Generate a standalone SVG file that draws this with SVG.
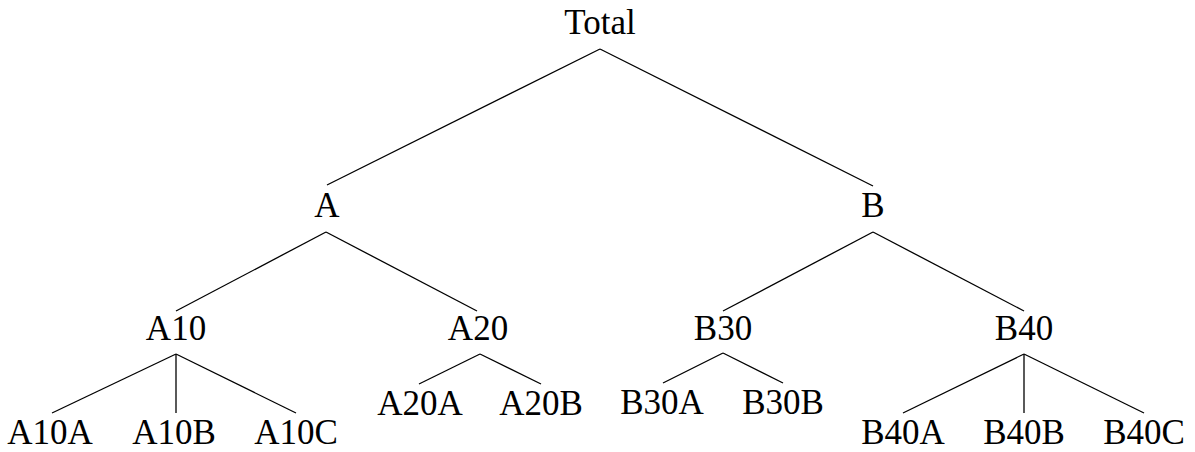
<svg xmlns="http://www.w3.org/2000/svg" width="1195" height="452" viewBox="0 0 1195 452">
  <style>
    .lbl { font-family: "Liberation Serif", "DejaVu Serif", serif; font-size: 35px; fill: #000; text-anchor: middle; }
    .edge { stroke: #000; stroke-width: 1.3; fill: none; stroke-linecap: butt; }
  </style>
  <rect width="1195" height="452" fill="#fff"/>

  <!-- tree edges: parent bottom to child top -->
  <g id="edges" class="edge">
    <line x1="600" y1="49" x2="327" y2="185"/>
    <line x1="600" y1="49" x2="873" y2="186"/>
    <line x1="326" y1="232" x2="176" y2="311"/>
    <line x1="326" y1="232" x2="477" y2="311"/>
    <line x1="873" y1="232" x2="723" y2="311"/>
    <line x1="873" y1="232" x2="1024" y2="311"/>
    <line x1="176" y1="354" x2="52" y2="413"/>
    <line x1="176" y1="354" x2="176" y2="413"/>
    <line x1="176" y1="354" x2="296" y2="413"/>
    <line x1="480" y1="354" x2="419" y2="384"/>
    <line x1="480" y1="354" x2="541" y2="384"/>
    <line x1="723" y1="353" x2="663" y2="383"/>
    <line x1="723" y1="353" x2="783" y2="383"/>
    <line x1="1024" y1="354" x2="903" y2="413"/>
    <line x1="1024" y1="354" x2="1024" y2="413"/>
    <line x1="1024" y1="354" x2="1144" y2="413"/>
  </g>

  <g id="n-total"><text class="lbl" x="600" y="34">Total</text></g>
  <g id="n-a"><text class="lbl" x="327" y="217">A</text></g>
  <g id="n-b"><text class="lbl" x="873" y="217">B</text></g>
  <g id="n-a10"><text class="lbl" x="176" y="340">A10</text></g>
  <g id="n-a20"><text class="lbl" x="478" y="340">A20</text></g>
  <g id="n-b30"><text class="lbl" x="723" y="340">B30</text></g>
  <g id="n-b40"><text class="lbl" x="1024" y="340">B40</text></g>
  <g id="n-a10a"><text class="lbl" x="50" y="444">A10A</text></g>
  <g id="n-a10b"><text class="lbl" x="174" y="444">A10B</text></g>
  <g id="n-a10c"><text class="lbl" x="296" y="444">A10C</text></g>
  <g id="n-a20a"><text class="lbl" x="420" y="415">A20A</text></g>
  <g id="n-a20b"><text class="lbl" x="541" y="415">A20B</text></g>
  <g id="n-b30a"><text class="lbl" x="662" y="414">B30A</text></g>
  <g id="n-b30b"><text class="lbl" x="783" y="414">B30B</text></g>
  <g id="n-b40a"><text class="lbl" x="903" y="444">B40A</text></g>
  <g id="n-b40b"><text class="lbl" x="1024" y="444">B40B</text></g>
  <g id="n-b40c"><text class="lbl" x="1144" y="444">B40C</text></g>
</svg>
